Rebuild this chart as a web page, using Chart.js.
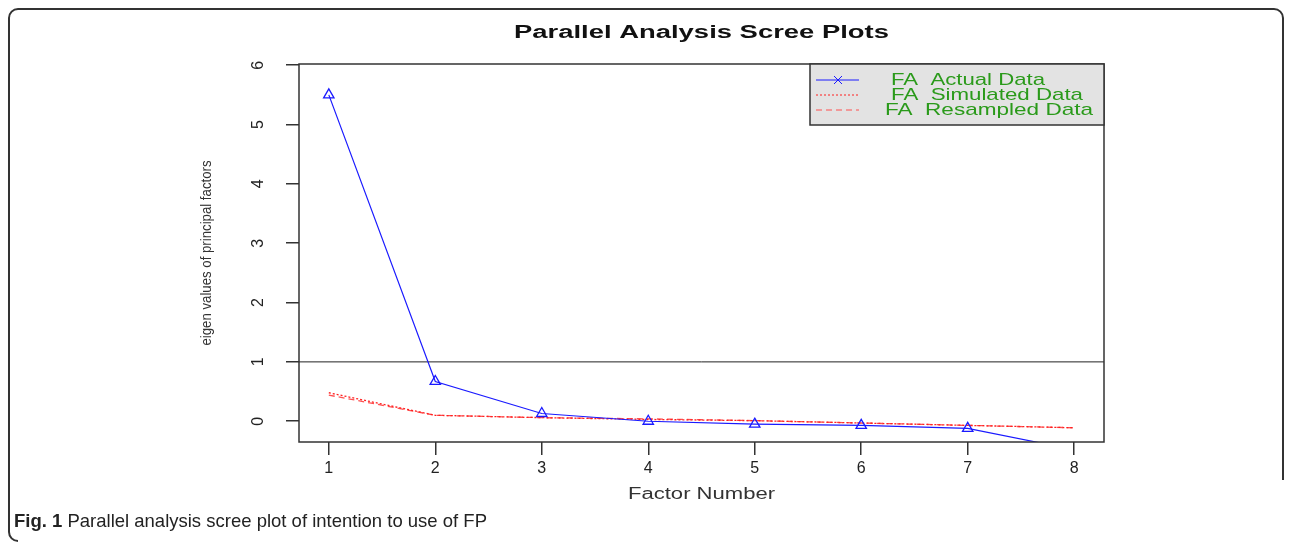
<!DOCTYPE html>
<html>
<head>
<meta charset="utf-8">
<script src="https://cdn.jsdelivr.net/npm/chart.js@4.4.1/dist/chart.umd.min.js"></script>
<style>
  body { margin: 0; background: #fff; }
  #wrap { width: 1292px; height: 544px; position: relative; }
</style>
</head>
<body>
<div id="wrap"><canvas id="screePlot"></canvas></div>
<script>
// DATA
const factors = [1, 2, 3, 4, 5, 6, 7, 8];
const actualData = [5.5, 0.67, 0.13, 0.0, -0.05, -0.07, -0.12, -0.48];
const simulatedData = [0.48, 0.10, 0.06, 0.03, 0.01, -0.03, -0.07, -0.11];
const resampledData = [0.44, 0.10, 0.06, 0.04, 0.01, -0.03, -0.07, -0.11];
const yTicks = [0, 1, 2, 3, 4, 5, 6];
const refLine = 1;
const seriesNames = ['FA  Actual Data', 'FA  Simulated Data', 'FA  Resampled Data'];

const titleText = 'Parallel Analysis Scree Plots';
const xTitle = 'Factor Number';
const yTitle = 'eigen values of principal factors';

// helper: draw text squeezed/stretched to a given width
function fitText(ctx, text, x, y, font, width, align) {
    ctx.save();
    ctx.font = font;
    const w = ctx.measureText(text).width;
    const sx = width / w;
    ctx.translate(x, y);
    ctx.scale(sx, 1);
    ctx.textAlign = align || 'center';
    ctx.textBaseline = 'middle';
    ctx.fillText(text, 0, 0);
    ctx.restore();
}

// R STYLE DECORATIONS (box, abline, legend, titles, caption)
const rDecor = {
    id: 'rDecor',
    beforeDatasetsDraw(chart) {
        const { ctx, chartArea: a, scales } = chart;
        // horizontal line at eigenvalue 1
        const y1 = scales.y.getPixelForValue(refLine);
        ctx.save();
        ctx.strokeStyle = '#222';
        ctx.lineWidth = 1;
        ctx.beginPath();
        ctx.moveTo(a.left, y1);
        ctx.lineTo(a.right, y1);
        ctx.stroke();
        ctx.restore();
    },
    afterDraw(chart) {
        const { ctx, chartArea: a, scales } = chart;
        ctx.save();

        // plot box
        ctx.strokeStyle = '#333';
        ctx.lineWidth = 1.5;
        ctx.strokeRect(a.left, a.top, a.right - a.left, a.bottom - a.top);

        // y tick labels, rotated like R's las=0
        ctx.fillStyle = '#222';
        scales.y.ticks.forEach(t => {
            ctx.save();
            ctx.translate(259, scales.y.getPixelForValue(t.value));
            ctx.rotate(-Math.PI / 2);
            ctx.font = '16px "Liberation Sans", Arial, sans-serif';
            ctx.textAlign = 'center';
            ctx.textBaseline = 'middle';
            ctx.fillText(String(t.value), 0, 0);
            ctx.restore();
        });

        // legend box
        const lx = 810, ly = a.top, lw = a.right - 810, lh = 61;
        ctx.fillStyle = '#e3e3e3';
        ctx.fillRect(lx, ly, lw, lh);
        ctx.strokeRect(lx, ly, lw, lh);
        const rows = [80, 95, 110];
        const textX = [891, 891, 885];
        const textW = [154, 192, 208];
        chart.data.datasets.forEach((ds, i) => {
            ctx.save();
            ctx.strokeStyle = ds.borderColor;
            ctx.lineWidth = 1;
            ctx.setLineDash(ds.borderDash || []);
            ctx.beginPath();
            ctx.moveTo(816, rows[i]);
            ctx.lineTo(859, rows[i]);
            ctx.stroke();
            ctx.restore();
            if (i === 0) {
                // cross marker
                ctx.strokeStyle = ds.borderColor;
                ctx.lineWidth = 1;
                ctx.beginPath();
                ctx.moveTo(834, rows[i] - 4); ctx.lineTo(842, rows[i] + 4);
                ctx.moveTo(842, rows[i] - 4); ctx.lineTo(834, rows[i] + 4);
                ctx.stroke();
            }
            ctx.fillStyle = '#2a9a1a';
            fitText(ctx, seriesNames[i], textX[i], rows[i], '17px "Liberation Sans", Arial, sans-serif', textW[i], 'left');
        });

        // titles
        ctx.fillStyle = '#111';
        const cx = (a.left + a.right) / 2;
        fitText(ctx, titleText, cx, 33, 'bold 18px "Liberation Sans", Arial, sans-serif', 375);
        ctx.fillStyle = '#333';
        fitText(ctx, xTitle, cx, 495, '16px "Liberation Sans", Arial, sans-serif', 147);
        ctx.save();
        ctx.translate(207, 253);
        ctx.rotate(-Math.PI / 2);
        fitText(ctx, yTitle, 0, 0, '15px "Liberation Sans", Arial, sans-serif', 185);
        ctx.restore();

        // outer figure frame
        ctx.strokeStyle = '#333';
        ctx.lineWidth = 2;
        ctx.beginPath();
        ctx.moveTo(1283, 480);
        ctx.lineTo(1283, 18);
        ctx.arcTo(1283, 9, 1273, 9, 9);
        ctx.lineTo(19, 9);
        ctx.arcTo(9, 9, 9, 19, 9);
        ctx.lineTo(9, 532);
        ctx.arcTo(9, 541, 19, 541, 9);
        ctx.stroke();

        // caption, bold label then plain text, fitted to the printed width
        ctx.fillStyle = '#222';
        ctx.textBaseline = 'middle';
        ctx.textAlign = 'left';
        const boldFont = 'bold 19px "Liberation Sans Narrow", "Liberation Sans", sans-serif';
        const normFont = '19px "Liberation Sans Narrow", "Liberation Sans", sans-serif';
        const capRest = ' Parallel analysis scree plot of intention to use of FP';
        ctx.font = boldFont;
        const fw = ctx.measureText('Fig. 1').width;
        ctx.font = normFont;
        const rw = ctx.measureText(capRest).width;
        const sc = 473 / (fw + rw);
        ctx.save();
        ctx.translate(14, 522);
        ctx.scale(sc, 1);
        ctx.font = boldFont;
        ctx.fillText('Fig. 1', 0, 0);
        ctx.font = normFont;
        ctx.fillText(capRest, fw, 0);
        ctx.restore();

        ctx.restore();
    }
};

new Chart(document.getElementById('screePlot'), {
    type: 'line',
    data: {
        datasets: [
            {
                label: seriesNames[0],
                data: factors.map((x, i) => ({ x: x, y: actualData[i] })),
                borderColor: '#1a1aff',
                backgroundColor: 'rgba(0,0,0,0)',
                borderWidth: 1.2,
                pointStyle: 'triangle',
                pointRadius: 6,
                pointBorderColor: '#1a1aff',
                pointBackgroundColor: 'rgba(0,0,0,0)',
                pointBorderWidth: 1.3,
                tension: 0
            },
            {
                label: seriesNames[1],
                data: factors.map((x, i) => ({ x: x, y: simulatedData[i] })),
                borderColor: '#ff2020',
                borderWidth: 1.3,
                borderDash: [2, 2],
                pointRadius: 0,
                tension: 0
            },
            {
                label: seriesNames[2],
                data: factors.map((x, i) => ({ x: x, y: resampledData[i] })),
                borderColor: '#ff5050',
                borderWidth: 1.3,
                borderDash: [6, 4],
                pointRadius: 0,
                tension: 0
            }
        ]
    },
    options: {
        responsive: true,
        maintainAspectRatio: false,
        animation: false,
        layout: { padding: { top: 64, right: 188, bottom: 0, left: 0 } },
        plugins: {
            legend: { display: false },
            tooltip: { enabled: false }
        },
        scales: {
            x: {
                type: 'linear',
                min: 0.72,
                max: 8.28,
                afterBuildTicks: (s) => { s.ticks = factors.map(v => ({ value: v })); },
                afterFit: (s) => { s.height = 102; },
                grid: { drawOnChartArea: false, tickLength: 13, color: '#333', lineWidth: 1.5 },
                border: { display: false },
                ticks: { color: '#222', padding: 4, font: { size: 16, family: '"Liberation Sans", Arial' } }
            },
            y: {
                min: -0.35,
                max: 6.02,
                afterBuildTicks: (s) => { s.ticks = yTicks.map(v => ({ value: v })); },
                afterFit: (s) => { s.width = 299; },
                grid: { drawOnChartArea: false, tickLength: 13, color: '#333', lineWidth: 1.5 },
                border: { display: false },
                ticks: { display: false }
            }
        }
    },
    plugins: [rDecor]
});
</script>
</body>
</html>
